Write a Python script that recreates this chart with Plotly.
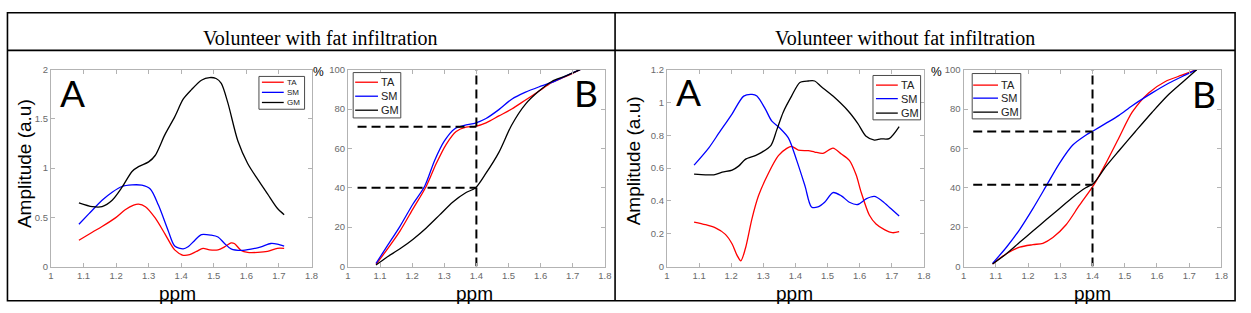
import plotly.graph_objects as go

W, H = 1251, 313

# ---------------- data ----------------
# Panel 1 (volunteer with fat infiltration) - A: amplitude spectra
a1_ta_x = [1.086, 1.127, 1.157, 1.198, 1.228, 1.254, 1.269, 1.29, 1.32, 1.35, 1.38, 1.406, 1.426, 1.447, 1.467, 1.487, 1.513, 1.533, 1.553, 1.563, 1.584, 1.604, 1.635, 1.665, 1.695, 1.716]
a1_ta_y = [0.267, 0.348, 0.406, 0.494, 0.576, 0.624, 0.634, 0.608, 0.494, 0.332, 0.169, 0.114, 0.12, 0.153, 0.185, 0.169, 0.169, 0.2, 0.24, 0.234, 0.163, 0.143, 0.143, 0.153, 0.185, 0.185]
a1_sm_x = [1.086, 1.117, 1.157, 1.188, 1.218, 1.249, 1.279, 1.305, 1.33, 1.36, 1.38, 1.406, 1.421, 1.442, 1.462, 1.492, 1.513, 1.533, 1.553, 1.584, 1.614, 1.645, 1.675, 1.695, 1.716]
a1_sm_y = [0.43, 0.537, 0.673, 0.755, 0.813, 0.829, 0.826, 0.787, 0.624, 0.364, 0.208, 0.179, 0.2, 0.267, 0.325, 0.319, 0.3, 0.234, 0.179, 0.163, 0.176, 0.2, 0.234, 0.228, 0.208]
a1_gm_x = [1.086, 1.127, 1.157, 1.188, 1.218, 1.249, 1.269, 1.30, 1.32, 1.35, 1.38, 1.406, 1.431, 1.462, 1.487, 1.507, 1.523, 1.543, 1.574, 1.604, 1.635, 1.665, 1.695, 1.716]
a1_gm_y = [0.647, 0.608, 0.608, 0.673, 0.803, 0.966, 1.015, 1.063, 1.128, 1.34, 1.52, 1.70, 1.795, 1.893, 1.92, 1.91, 1.86, 1.665, 1.275, 1.047, 0.885, 0.738, 0.592, 0.527]

# Panel 1 - B: cumulative %
b1_ta_x = [1.0875, 1.12, 1.162, 1.203, 1.244, 1.275, 1.306, 1.337, 1.368, 1.397, 1.43, 1.47, 1.51, 1.553, 1.594, 1.635, 1.677, 1.723]
b1_ta_y = [1.1, 8.2, 18, 29.4, 40.8, 52.3, 62.1, 68.6, 70.8, 71.2, 73, 76.5, 80, 84.6, 89, 93.5, 96.4, 100]
b1_sm_x = [1.0875, 1.12, 1.162, 1.203, 1.239, 1.27, 1.30, 1.332, 1.368, 1.397, 1.43, 1.47, 1.51, 1.553, 1.594, 1.635, 1.677, 1.723]
b1_sm_y = [1.6, 9.8, 20.4, 31.9, 40.8, 53.9, 63.7, 69.9, 71.9, 72.9, 75.2, 79.7, 85, 88.6, 91.2, 93.5, 96.7, 100]
b1_gm_x = [1.0875, 1.12, 1.162, 1.203, 1.244, 1.285, 1.326, 1.368, 1.397, 1.43, 1.47, 1.51, 1.553, 1.594, 1.635, 1.677, 1.723]
b1_gm_y = [0.8, 4.6, 9, 13.9, 19.6, 26.1, 32.7, 37.6, 39.9, 47.4, 58, 71.9, 82.5, 89, 94, 96.7, 100]
b1_guide_ppm = 1.4
b1_guide_levels = [71, 40]

# Panel 2 (volunteer without fat infiltration) - A
a2_ta_x = [1.0845, 1.12, 1.151, 1.182, 1.203, 1.218, 1.23, 1.244, 1.265, 1.285, 1.316, 1.347, 1.373, 1.388, 1.409, 1.44, 1.46, 1.486, 1.517, 1.543, 1.568, 1.589, 1.605, 1.63, 1.651, 1.677, 1.702, 1.723]
a2_ta_y = [0.271, 0.255, 0.235, 0.196, 0.137, 0.069, 0.035, 0.108, 0.294, 0.431, 0.569, 0.676, 0.72, 0.733, 0.71, 0.706, 0.698, 0.69, 0.722, 0.686, 0.647, 0.559, 0.451, 0.314, 0.259, 0.225, 0.206, 0.212]
a2_sm_x = [1.0845, 1.131, 1.162, 1.203, 1.239, 1.265, 1.28, 1.306, 1.326, 1.352, 1.378, 1.404, 1.43, 1.45, 1.47, 1.491, 1.517, 1.543, 1.568, 1.594, 1.62, 1.646, 1.671, 1.697, 1.723]
a2_sm_y = [0.618, 0.725, 0.814, 0.931, 1.039, 1.049, 1.039, 0.961, 0.888, 0.843, 0.784, 0.647, 0.49, 0.363, 0.363, 0.392, 0.451, 0.431, 0.392, 0.378, 0.412, 0.427, 0.398, 0.353, 0.308]
a2_gm_x = [1.0845, 1.12, 1.146, 1.172, 1.203, 1.223, 1.244, 1.275, 1.295, 1.324, 1.342, 1.362, 1.388, 1.414, 1.44, 1.46, 1.48, 1.517, 1.563, 1.594, 1.62, 1.646, 1.666, 1.692, 1.723]
a2_gm_y = [0.563, 0.559, 0.559, 0.575, 0.588, 0.612, 0.653, 0.676, 0.696, 0.739, 0.833, 0.941, 1.039, 1.122, 1.131, 1.131, 1.098, 1.039, 0.951, 0.873, 0.794, 0.771, 0.778, 0.78, 0.853]

# Panel 2 - B
b2_ta_x = [1.09, 1.133, 1.174, 1.215, 1.246, 1.277, 1.318, 1.359, 1.403, 1.441, 1.482, 1.523, 1.574, 1.626, 1.677, 1.723]
b2_ta_y = [1.3, 6.5, 9.8, 11.1, 11.8, 14.7, 21.2, 31, 41.2, 52.3, 65.4, 78.4, 88.2, 94, 97.2, 100]
b2_sm_x = [1.09, 1.133, 1.174, 1.215, 1.256, 1.297, 1.338, 1.379, 1.403, 1.441, 1.482, 1.523, 1.585, 1.636, 1.687, 1.723]
b2_sm_y = [1.6, 9.8, 18.8, 29.4, 40.8, 52.3, 61.6, 66.7, 69, 72.7, 76.8, 81.7, 88.2, 93.1, 97.2, 100]
b2_gm_x = [1.09, 1.133, 1.174, 1.215, 1.256, 1.297, 1.338, 1.379, 1.403, 1.441, 1.482, 1.533, 1.585, 1.636, 1.687, 1.723]
b2_gm_y = [1.3, 6.5, 12.3, 18, 23.7, 29.4, 35.1, 40, 42.2, 50.7, 58.8, 68.6, 78.4, 87.4, 94.8, 100]
b2_guide_ppm = 1.4
b2_guide_levels = [68.6, 41.5]
guide_start = 1.03

series_names = ["TA", "SM", "GM"]
series_colors = ["#ff0000", "#0000ff", "#000000"]

x_ticks = [1, 1.1, 1.2, 1.3, 1.4, 1.5, 1.6, 1.7, 1.8]
x_ticktext = ["1", "1.1", "1.2", "1.3", "1.4", "1.5", "1.6", "1.7", "1.8"]
a1_yticks = [0, 0.5, 1, 1.5, 2]
a1_yticktext = ["0", "0.5", "1", "1.5", "2"]
a2_yticks = [0, 0.2, 0.4, 0.6, 0.8, 1.0, 1.2]
a2_yticktext = ["0", "0.2", "0.4", "0.6", "0.8", "1", "1.2"]
b_yticks = [0, 20, 40, 60, 80, 100]
b_yticktext = ["0", "20", "40", "60", "80", "100"]

titles = ["Volunteer with fat infiltration", "Volunteer without fat infiltration"]

# ---------------- figure ----------------
def px(x):
    return x / W

def py(y):
    return 1 - y / H

fig = go.Figure()

panels = [
    ("x", "y", [(a1_ta_x, a1_ta_y), (a1_sm_x, a1_sm_y), (a1_gm_x, a1_gm_y)]),
    ("x2", "y2", [(b1_ta_x, b1_ta_y), (b1_sm_x, b1_sm_y), (b1_gm_x, b1_gm_y)]),
    ("x3", "y3", [(a2_ta_x, a2_ta_y), (a2_sm_x, a2_sm_y), (a2_gm_x, a2_gm_y)]),
    ("x4", "y4", [(b2_ta_x, b2_ta_y), (b2_sm_x, b2_sm_y), (b2_gm_x, b2_gm_y)]),
]
for xa, ya, series in panels:
    for (sx, sy), name, col in zip(series, series_names, series_colors):
        fig.add_trace(go.Scatter(x=sx, y=sy, mode="lines", name=name, showlegend=False,
                                 line=dict(color=col, width=1.3, shape="spline", smoothing=0.8),
                                 xaxis=xa, yaxis=ya))

# dashed guide lines in B panels
dash_style = dict(color="black", width=2, dash="9px,5px")
for xa, ya, gp, levels in [("x2", "y2", b1_guide_ppm, b1_guide_levels), ("x4", "y4", b2_guide_ppm, b2_guide_levels)]:
    fig.add_trace(go.Scatter(x=[gp, gp], y=[0, 100], mode="lines", line=dash_style,
                             showlegend=False, xaxis=xa, yaxis=ya, cliponaxis=False))
    for lv in levels:
        fig.add_trace(go.Scatter(x=[guide_start, gp], y=[lv, lv], mode="lines", line=dash_style,
                                 showlegend=False, xaxis=xa, yaxis=ya))

frame_col = "#b3b3b3"
tick_font = dict(family="Liberation Sans, Arial", size=9.5, color="#6a6a6a")

def axis_common():
    return dict(showline=True, mirror="ticks", linecolor=frame_col, linewidth=1,
                ticks="inside", ticklen=4, tickcolor=frame_col, tickwidth=1,
                showgrid=False, zeroline=False, tickfont=tick_font, fixedrange=True)

y_dom = [py(270), py(66)]
x_doms = [(48.3, 311), (347.7, 606.7), (669.3, 928.3), (968.3, 1228.3)]
yspecs = [((0, 2), a1_yticks, a1_yticktext), ((0, 100), b_yticks, b_yticktext),
          ((0, 1.2), a2_yticks, a2_yticktext), ((0, 100), b_yticks, b_yticktext)]

layout_axes = {}
for i, ((x0, x1), (yr, yt, ytt)) in enumerate(zip(x_doms, yspecs)):
    sfx = "" if i == 0 else str(i + 1)
    layout_axes["xaxis" + sfx] = dict(axis_common(), domain=[px(x0), px(x1)], range=[1, 1.8],
                                      tickmode="array", tickvals=x_ticks, ticktext=x_ticktext,
                                      anchor="y" + sfx)
    layout_axes["yaxis" + sfx] = dict(axis_common(), domain=y_dom, range=list(yr),
                                      tickmode="array", tickvals=yt, ticktext=ytt,
                                      anchor="x" + sfx)

fig.update_layout(**layout_axes)

# table lines
shapes = []
line_k = dict(color="black", width=1.6)
shapes.append(dict(type="rect", xref="paper", yref="paper", x0=px(4.5), x1=px(1242), y0=py(305.5), y1=py(7),
                   line=line_k, fillcolor="rgba(0,0,0,0)", layer="below"))
shapes.append(dict(type="line", xref="paper", yref="paper", x0=px(4.5), x1=px(1242), y0=py(46), y1=py(46), line=line_k))
shapes.append(dict(type="line", xref="paper", yref="paper", x0=px(617), x1=px(617), y0=py(7), y1=py(305.5), line=line_k))

annotations = []
# titles
for txt, cx in zip(titles, [320, 909]):
    annotations.append(dict(text=txt, x=px(cx), y=py(33), xref="paper", yref="paper", showarrow=False,
                            xanchor="center", yanchor="middle",
                            font=dict(family="Liberation Serif, Times New Roman", size=20, color="black")))

# manual legends (box + line samples + labels)
legends = [  # (box x0, x1, y0, y1, line x0, line x1, item ys, font size)
    (258, 304, 73, 107, 261, 283, [79, 89.5, 100], 8),
    (353, 401, 69, 116, 355, 378, [79, 93.5, 108], 11),
    (877, 925, 72, 118, 880, 902, [82, 96, 111], 11),
    (977, 1026, 70, 117, 978, 1003, [82, 95.5, 110], 11),
]
for bx0, bx1, by0, by1, lx0, lx1, ys, fs in legends:
    shapes.append(dict(type="rect", xref="paper", yref="paper", x0=px(bx0), x1=px(bx1), y0=py(by1), y1=py(by0),
                       line=dict(color="#4a4a4a", width=1), fillcolor="white"))
    for yy, name, col in zip(ys, series_names, series_colors):
        shapes.append(dict(type="line", xref="paper", yref="paper", x0=px(lx0), x1=px(lx1), y0=py(yy), y1=py(yy),
                           line=dict(color=col, width=1.3)))
        annotations.append(dict(text=name, x=px(lx1 + 1), y=py(yy), xref="paper", yref="paper", showarrow=False,
                                xanchor="left", yanchor="middle",
                                font=dict(family="Liberation Sans, Arial", size=fs, color="#222222")))

# panel letters
for letter, cx, cy in [("A", 70, 90), ("B", 588, 90), ("A", 691, 89), ("B", 1211, 91)]:
    annotations.append(dict(text=letter, x=px(cx), y=py(cy), xref="paper", yref="paper", showarrow=False,
                            xanchor="center", yanchor="middle",
                            font=dict(family="Lato, Open Sans", size=37, color="black")))

# % labels
for cx in [318, 941]:
    annotations.append(dict(text="%", x=px(cx), y=py(68), xref="paper", yref="paper", showarrow=False,
                            xanchor="center", yanchor="middle",
                            font=dict(family="Liberation Sans, Arial", size=12, color="black")))

# ppm labels
for cx in [176, 475, 798, 1098]:
    annotations.append(dict(text="ppm", x=px(cx), y=py(297.5), xref="paper", yref="paper", showarrow=False,
                            xanchor="center", yanchor="middle",
                            font=dict(family="Liberation Sans, Arial", size=19, color="black")))

# amplitude labels
for cx, cy in [(21, 163), (635, 160)]:
    annotations.append(dict(text="Amplitude (a.u)", x=px(cx), y=py(cy), xref="paper", yref="paper",
                            showarrow=False, textangle=-90, xanchor="center", yanchor="middle",
                            font=dict(family="Liberation Sans, Arial", size=19, color="black")))

fig.update_layout(width=W, height=H, margin=dict(l=0, r=0, t=0, b=0),
                  paper_bgcolor="white", plot_bgcolor="white",
                  shapes=shapes, annotations=annotations, showlegend=False)

fig.write_html("out.html", config={"displayModeBar": False},
               post_script="document.body.style.margin='0';document.body.style.overflow='hidden';")
